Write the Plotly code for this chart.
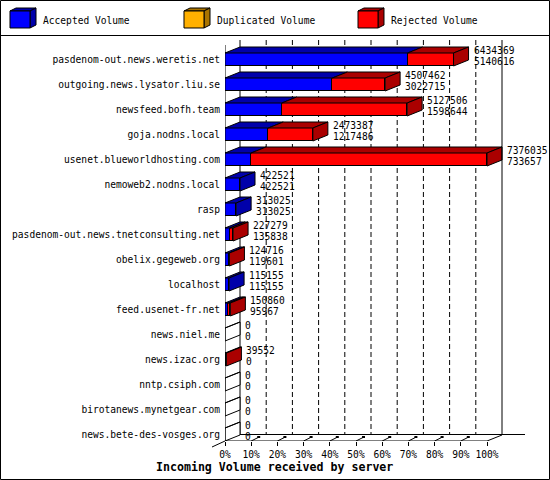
import plotly.graph_objects as go

# ---------------- data ----------------
servers = ["pasdenom-out.news.weretis.net", "outgoing.news.lysator.liu.se", "newsfeed.bofh.team",
           "goja.nodns.local", "usenet.blueworldhosting.com", "nemoweb2.nodns.local", "rasp",
           "pasdenom-out.news.tnetconsulting.net", "obelix.gegeweb.org", "localhost",
           "feed.usenet-fr.net", "news.niel.me", "news.izac.org", "nntp.csiph.com",
           "birotanews.mynetgear.com", "news.bete-des-vosges.org"]
accepted = [5140616, 3022715, 1598644, 1217486, 733657, 422521, 313025, 135838,
            119601, 115155, 95967, 0, 0, 0, 0, 0]
duplicated = [0, 0, 0, 0, 0, 0, 0, 0, 0, 0, 0, 0, 0, 0, 0, 0]
rejected = [1293753, 1484747, 3528862, 1255901, 6642378, 0, 0, 91441,
            5115, 0, 54893, 0, 39552, 0, 0, 0]
series_names = ["Accepted Volume", "Duplicated Volume", "Rejected Volume"]
percent_labels = ["0%", "10%", "20%", "30%", "40%", "50%", "60%", "70%", "80%", "90%", "100%"]
x_title = "Incoming Volume received by server"

# ---------------- styling / geometry ----------------
FONT = "DejaVu Sans Mono"
FS = 9.6
front_colors = ["#0000ff", "#ffb000", "#ff0000"]
dark_colors = ["#0000aa", "#aa7400", "#aa0000"]
W, H = 550, 480
L, R, T, B = 225, 530, 40, 441
FRONT_PX = 262
ROW0, ROW_PX = 59.5, 25.0

series_vals = [accepted, duplicated, rejected]
n = len(servers)
rows = list(range(n))
totals = [accepted[i] + duplicated[i] + rejected[i] for i in rows]
vmax = max(totals)
upx = vmax / FRONT_PX
DX = 15 * upx
DY = 6 / ROW_PX
HALF = 6.5 / ROW_PX


def ypx(p):
    return (p - ROW0) / ROW_PX


def xpx(p):
    return (p - L) * upx


def px_x(p):
    return (p - L) / (R - L)


def px_y(p):
    return (B - p) / (B - T)


fig = go.Figure()

# front faces: native stacked horizontal bars
for name, vals, fc in zip(series_names, series_vals, front_colors):
    fig.add_trace(go.Bar(y=rows, x=vals, orientation="h", width=2 * HALF, name=name,
                         marker=dict(color=fc, line=dict(color="black", width=1)),
                         showlegend=False, hoverinfo="skip"))

# top faces
for s, (vals, dc) in enumerate(zip(series_vals, dark_colors)):
    xs, ys = [], []
    for i in rows:
        if vals[i] <= 0:
            continue
        x0 = sum(series_vals[k][i] for k in range(s))
        x1 = x0 + vals[i]
        yt = i - HALF
        xs += [x0, x1, x1 + DX, x0 + DX, x0, None]
        ys += [yt, yt, yt - DY, yt - DY, yt, None]
    if xs:
        fig.add_trace(go.Scatter(x=xs, y=ys, mode="lines", fill="toself", fillcolor=dc,
                                 line=dict(color="black", width=1), showlegend=False,
                                 hoverinfo="skip"))

# side faces (color of last non-empty segment; white outline for empty bars)
side = {}
for i in rows:
    col = "#ffffff"
    for s in range(len(series_vals)):
        if series_vals[s][i] > 0:
            col = dark_colors[s]
    x1 = totals[i]
    yt, yb = i - HALF, i + HALF
    xs, ys = side.setdefault(col, ([], []))
    xs += [x1, x1 + DX, x1 + DX, x1, x1, None]
    ys += [yt, yt - DY, yb - DY, yb, yt, None]
    if totals[i] == 0:
        xs += [0, DX, None]
        ys += [yt, yt - DY, None]
for col, (xs, ys) in side.items():
    fig.add_trace(go.Scatter(x=xs, y=ys, mode="lines", fill="toself", fillcolor=col,
                             line=dict(color="black", width=1), showlegend=False,
                             hoverinfo="skip"))

annotations = []
for i in rows:
    xt = totals[i] + DX + 3 * upx
    annotations.append(dict(x=xt, y=i - 9.5 / ROW_PX, xref="x", yref="y", text=str(totals[i]),
                            showarrow=False, xanchor="left", yanchor="middle",
                            font=dict(family=FONT, size=FS, color="black")))
    annotations.append(dict(x=xt, y=i + 2 / ROW_PX, xref="x", yref="y", text=str(accepted[i]),
                            showarrow=False, xanchor="left", yanchor="middle",
                            font=dict(family=FONT, size=FS, color="black")))

shapes = []
line_k = dict(color="black", width=1)
tickvals = [vmax * k / 10 for k in range(len(percent_labels))]
# dashed gridlines on back wall
for v in tickvals[1:-1]:
    shapes.append(dict(type="line", xref="x", yref="y", x0=v + DX, x1=v + DX, y0=ypx(40),
                       y1=ypx(434.5), line=dict(color="black", width=1, dash="5px,3px"),
                       layer="below"))
# frame lines
shapes += [
    dict(type="line", xref="x", yref="y", x0=DX, x1=DX, y0=ypx(40), y1=ypx(434.5), line=line_k, layer="below"),
    dict(type="line", xref="x", yref="y", x0=0, x1=0, y0=ypx(45), y1=ypx(441), line=line_k),
    dict(type="line", xref="x", yref="y", x0=0, x1=vmax, y0=ypx(441), y1=ypx(441), line=line_k),
    dict(type="line", xref="x", yref="y", x0=vmax, x1=vmax + DX, y0=ypx(441), y1=ypx(435), line=line_k),
    dict(type="line", xref="x", yref="y", x0=DX, x1=xpx(525), y0=ypx(434.5), y1=ypx(434.5), line=line_k),
    dict(type="line", xref="x", yref="y", x0=vmax + DX, x1=vmax + DX, y0=ypx(40), y1=ypx(434.5), line=line_k),
    dict(type="line", xref="paper", yref="paper", x0=px_x(212), x1=px_x(225), y0=px_y(447), y1=px_y(441), line=line_k),
]
# little 3D tick marks on floor
for v in tickvals[1:-1]:
    shapes.append(dict(type="line", xref="x", yref="y", x0=v, x1=v + 7 * upx, y0=ypx(441),
                       y1=ypx(437.5), line=line_k))
    shapes.append(dict(type="rect", xref="x", yref="y", x0=v + 6 * upx, x1=v + 9 * upx,
                       y0=ypx(438), y1=ypx(436), line=dict(width=0), fillcolor="black"))

# outer border and legend separator
shapes.append(dict(type="rect", xref="paper", yref="paper", x0=px_x(0.5), x1=px_x(549.5),
                   y0=px_y(0.5), y1=px_y(479.5), line=line_k))
shapes.append(dict(type="line", xref="paper", yref="paper", x0=px_x(0), x1=px_x(550),
                   y0=px_y(35.5), y1=px_y(35.5), line=line_k))


def ppath(pts):
    return "M " + " L ".join(f"{px_x(a):.5f},{px_y(b):.5f}" for a, b in pts) + " Z"


legend_x = [10, 184, 358]
for name, lx, fc, dc in zip(series_names, legend_x, front_colors, dark_colors):
    shapes.append(dict(type="path", xref="paper", yref="paper",
                       path=ppath([(lx, 11), (lx + 6, 8), (lx + 26, 8), (lx + 20, 11)]),
                       fillcolor=dc, line=line_k))
    shapes.append(dict(type="path", xref="paper", yref="paper",
                       path=ppath([(lx + 20, 11), (lx + 26, 8), (lx + 26, 25), (lx + 20, 28)]),
                       fillcolor=dc, line=line_k))
    shapes.append(dict(type="path", xref="paper", yref="paper",
                       path=ppath([(lx, 11), (lx + 20, 11), (lx + 20, 28), (lx, 28)]),
                       fillcolor=fc, line=line_k))
    annotations.append(dict(x=px_x(lx + 31), y=px_y(20), xref="paper", yref="paper", text=name,
                            showarrow=False, xanchor="left", yanchor="middle",
                            font=dict(family=FONT, size=FS, color="black")))

annotations.append(dict(x=px_x(274), y=px_y(467), xref="paper", yref="paper",
                        text="<b>" + x_title + "</b>", showarrow=False, xanchor="center",
                        yanchor="middle", font=dict(family=FONT, size=11.6, color="black")))

fig.update_layout(
    width=W, height=H, margin=dict(l=L, r=W - R, t=T, b=H - B, pad=0, autoexpand=False),
    paper_bgcolor="white", plot_bgcolor="white", barmode="stack", bargap=0,
    showlegend=False, shapes=shapes, annotations=annotations,
    font=dict(family=FONT, size=FS, color="black"),
    xaxis=dict(range=[0, (R - L) * upx], tickvals=tickvals, ticktext=percent_labels,
               ticks="outside", ticklen=4, tickcolor="black", showgrid=False, zeroline=False,
               showline=False, automargin=False,
               tickfont=dict(family=FONT, size=FS, color="black"), fixedrange=True),
    yaxis=dict(range=[ypx(B), ypx(T)], tickvals=rows, ticktext=servers, ticks="",
               ticklabelstandoff=4, showgrid=False, zeroline=False, showline=False,
               automargin=False,
               tickfont=dict(family=FONT, size=FS, color="black"), fixedrange=True),
)

fig.write_html("out.html", config={"displayModeBar": False},
               post_script="document.body.style.margin='0';document.body.style.overflow='hidden';")
